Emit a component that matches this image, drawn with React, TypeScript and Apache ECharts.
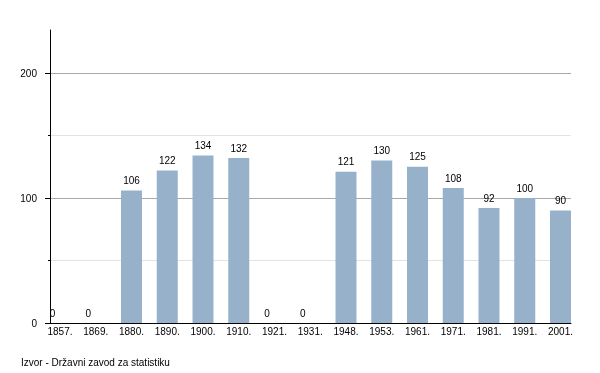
import React, { useEffect, useRef } from "react";
import * as echarts from "echarts";

const categories = ["1857.", "1869.", "1880.", "1890.", "1900.", "1910.", "1921.", "1931.", "1948.", "1953.", "1961.", "1971.", "1981.", "1991.", "2001."];
const values = [0, 0, 106, 122, 134, 132, 0, 0, 121, 130, 125, 108, 92, 100, 90];
const majorTicks = [0, 100, 200];
const minorTicks = [50, 150];
const yMax = 234.4;
const sourceText = "Izvor - Državni zavod za statistiku";

const FONT = "'Liberation Sans', Arial, Helvetica, sans-serif";

export default function App() {
  const ref = useRef<HTMLDivElement>(null);
  useEffect(() => {
    if (!ref.current) return;
    const chart = echarts.init(ref.current, undefined, { renderer: "svg" });
    const gridTop = 30;
    const gridBottom = 50;
    chart.setOption({
      animation: false,
      textStyle: { fontFamily: FONT },
      grid: [
        { left: 60, right: 39.5, top: gridTop, bottom: gridBottom },
        { left: 50, right: 29, top: gridTop, bottom: gridBottom },
      ],
      xAxis: [
        {
          type: "category",
          gridIndex: 0,
          data: categories,
          boundaryGap: false,
          axisLine: { show: false },
          axisTick: { show: false },
          axisLabel: { interval: 0, fontSize: 10, color: "#000", margin: 3, fontFamily: FONT },
          splitLine: { show: false },
        },
        {
          type: "value",
          gridIndex: 1,
          min: 0,
          max: 1,
          axisLine: { show: true, onZero: false, lineStyle: { color: "#000", width: 1 } },
          axisTick: { show: false },
          axisLabel: { show: false },
          splitLine: { show: false },
        },
      ],
      yAxis: [
        { type: "value", gridIndex: 0, min: 0, max: yMax, show: false },
        {
          type: "value",
          gridIndex: 1,
          min: 0,
          max: yMax,
          interval: 50,
          position: "left",
          axisLine: { show: true, lineStyle: { color: "#000", width: 1 } },
          axisTick: { show: false },
          axisLabel: { show: false },
          splitLine: {
            show: true,
            lineStyle: {
              color: ["rgba(0,0,0,0)", "#e2e2e2", "#a8a8a8", "#e2e2e2", "#a8a8a8", "rgba(0,0,0,0)"],
              width: 1,
            },
          },
        },
        {
          type: "value",
          gridIndex: 1,
          min: 0,
          max: yMax,
          position: "left",
          offset: 0,
          axisLine: { show: false },
          axisTick: { show: true, length: 5, customValues: majorTicks, lineStyle: { color: "#000" } },
          axisLabel: { show: true, customValues: majorTicks, fontSize: 10, color: "#000", margin: 13, fontFamily: FONT },
          splitLine: { show: false },
        },
        {
          type: "value",
          gridIndex: 1,
          min: 0,
          max: yMax,
          position: "left",
          offset: 0,
          axisLine: { show: false },
          axisTick: { show: true, length: 2, customValues: minorTicks, lineStyle: { color: "#000" } },
          axisLabel: { show: false },
          splitLine: { show: false },
        },
      ],
      series: [
        {
          type: "bar",
          xAxisIndex: 0,
          yAxisIndex: 0,
          barWidth: 21,
          itemStyle: { color: "#98b1cb" },
          label: {
            show: true,
            position: "top",
            distance: 5,
            fontSize: 10,
            color: "#000",
            fontFamily: FONT,
          },
          data: values.map((v) => (v === 0 ? { value: v, label: { offset: [-7.5, 0] } } : v)),
        },
      ],
      graphic: [
        {
          type: "text",
          left: 21,
          top: 357,
          style: { text: sourceText, fontSize: 10, fill: "#000", fontFamily: FONT },
        },
      ],
    });
    return () => chart.dispose();
  }, []);
  return <div ref={ref} style={{ position: "fixed", left: 0, top: 0, width: 600, height: 373 }} />;
}
